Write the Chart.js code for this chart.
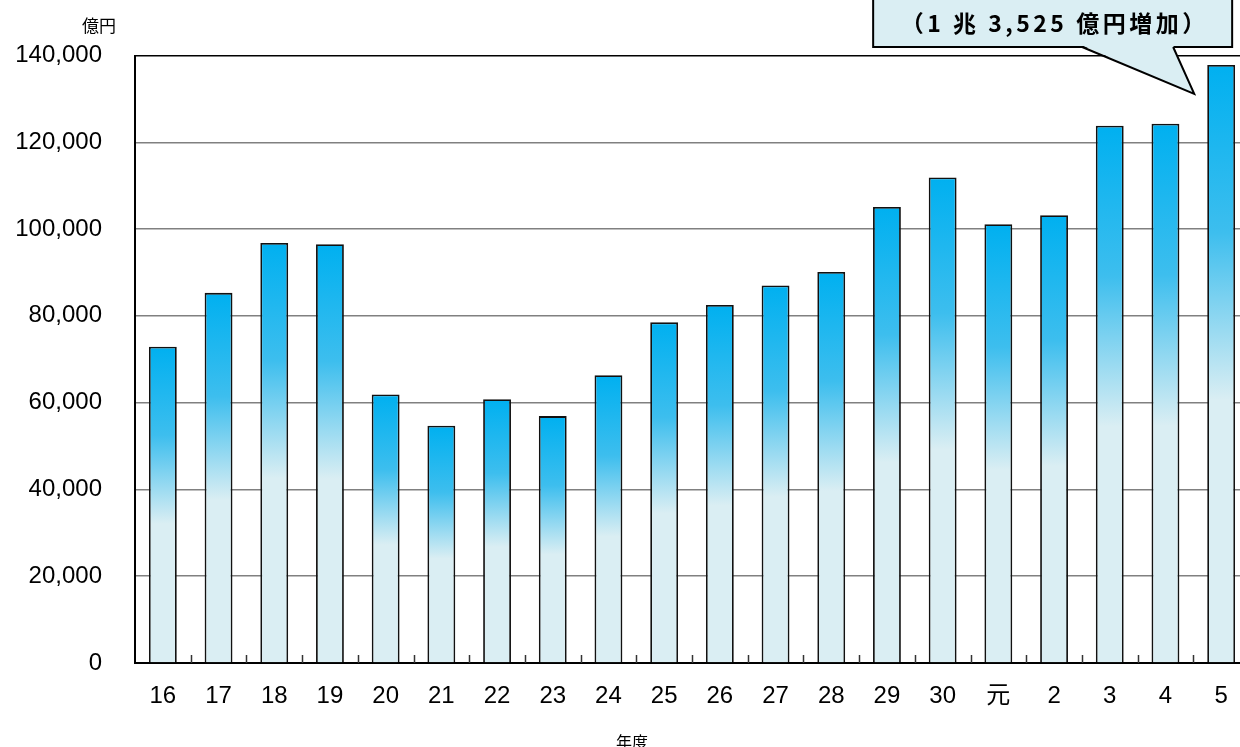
<!DOCTYPE html>
<html>
<head>
<meta charset="utf-8">
<script src="https://cdn.jsdelivr.net/npm/chart.js@4.4.0/dist/chart.umd.min.js"></script>
<style>
html,body{margin:0;padding:0;background:#fff;overflow:hidden;width:1240px;height:747px;}
#wrap{position:absolute;left:0;top:0;width:1249px;height:747px;}
</style>
</head>
<body>
<div id="wrap"><canvas id="c"></canvas></div>
<script>
const categories = ['16','17','18','19','20','21','22','23','24','25','26','27','28','29','30','元','2','3','4','5'];
const values = [72900, 85300, 96800, 96500, 61900, 54700, 60800, 56900, 66300, 78500, 82500, 87000, 90100, 105100, 111900, 101100, 103200, 123800, 124300, 137825];
const yTickValues = [0, 20000, 40000, 60000, 80000, 100000, 120000, 140000];
const yUnit = '億円';
const xTitle = '年度';
const calloutText = '（1 兆 3,525 億円増加）';

const FONT = '"Liberation Sans", Arial, "Noto Sans CJK JP", sans-serif';
const CJK = '"Noto Sans CJK JP", "Liberation Sans", sans-serif';

const extras = {
  id: 'extras',
  afterDraw(chart) {
    const ctx = chart.ctx;
    const ca = chart.chartArea;
    const xs = chart.scales.x;
    ctx.save();
    // category separator ticks (inside, upward)
    ctx.strokeStyle = '#333';
    ctx.lineWidth = 1.5;
    for (let i = 1; i < categories.length; i++) {
      const x = (xs.getPixelForValue(i - 1) + xs.getPixelForValue(i)) / 2;
      ctx.beginPath();
      ctx.moveTo(Math.round(x) + 0.5, ca.bottom);
      ctx.lineTo(Math.round(x) + 0.5, ca.bottom - 8);
      ctx.stroke();
    }
    // unit label
    ctx.fillStyle = '#000';
    ctx.font = '17px ' + CJK;
    ctx.textAlign = 'center';
    ctx.textBaseline = 'middle';
    ctx.fillText(yUnit, ca.left - 36, ca.top - 30);
    // x title
    ctx.font = '16px ' + CJK;
    ctx.fillText(xTitle, 632, 742);

    // callout
    const el = chart.getDatasetMeta(0).data[categories.length - 1];
    const tipX = el.x - el.width / 2 - 13;
    const tipY = el.y + 29;
    const right = el.x + 11;
    const left = right - 359;
    const bottom = ca.top - 8.5;
    const top = -40;
    const b1 = right - 150, b2 = right - 59;
    ctx.fillStyle = '#DAEEF3';
    ctx.strokeStyle = '#000';
    ctx.lineWidth = 2;
    ctx.fillRect(left, top, right - left, bottom - top);
    ctx.strokeRect(left, top, right - left, bottom - top);
    ctx.beginPath();
    ctx.moveTo(b1, bottom - 1.5);
    ctx.lineTo(tipX, tipY);
    ctx.lineTo(b2, bottom - 1.5);
    ctx.closePath();
    ctx.fill();
    ctx.beginPath();
    ctx.moveTo(b1, bottom);
    ctx.lineTo(tipX, tipY);
    ctx.lineTo(b2, bottom);
    ctx.stroke();
    ctx.fillStyle = '#000';
    ctx.font = 'bold 23px ' + CJK;
    ctx.letterSpacing = '3.5px';
    ctx.textAlign = 'center';
    ctx.textBaseline = 'middle';
    ctx.fillText(calloutText, (left + right) / 2 + 2, bottom - 24);
    ctx.restore();
  }
};

new Chart(document.getElementById('c'), {
  type: 'bar',
  data: {
    labels: categories,
    datasets: [{
      data: values,
      backgroundColor: (c) => {
        const chart = c.chart;
        const ys = chart.scales.y;
        if (!chart.chartArea || !ys) return '#00B0F0';
        const top = ys.getPixelForValue(c.raw);
        const bot = ys.getPixelForValue(0);
        const g = chart.ctx.createLinearGradient(0, top, 0, bot);
        g.addColorStop(0, '#00B0F0');
        g.addColorStop(0.28, '#3DBEEE');
        g.addColorStop(0.56, '#DAEEF3');
        g.addColorStop(1, '#DAEEF3');
        return g;
      },
      borderColor: '#111',
      borderWidth: 1.8,
      borderSkipped: 'bottom',
      barPercentage: 0.5,
      categoryPercentage: 1.0
    }]
  },
  options: {
    responsive: true,
    maintainAspectRatio: false,
    animation: false,
    layout: { padding: { top: 55.5, right: 0, left: 0, bottom: 0 } },
    plugins: { legend: { display: false }, tooltip: { enabled: false } },
    scales: {
      x: {
        grid: { display: false, drawTicks: false },
        border: { display: true, color: '#000', width: 2 },
        ticks: { color: '#000', font: { family: FONT, size: 24 }, padding: 19, maxRotation: 0, autoSkip: false },
        afterFit: (s) => { s.height = 84; }
      },
      y: {
        min: 0, max: 140000,
        afterBuildTicks: (s) => { s.ticks = yTickValues.map(v => ({ value: v })); },
        grid: {
          drawTicks: false,
          color: (c) => c.tick && c.tick.value === 140000 ? '#000' : '#808080',
          lineWidth: 1.5
        },
        border: { display: true, color: '#000', width: 2 },
        ticks: {
          color: '#000',
          font: { family: FONT, size: 24 },
          padding: 33,
          callback: (v) => Number(v).toLocaleString('en-US')
        },
        afterFit: (s) => { s.width = 135; }
      }
    }
  },
  plugins: [extras]
});
</script>
</body>
</html>
